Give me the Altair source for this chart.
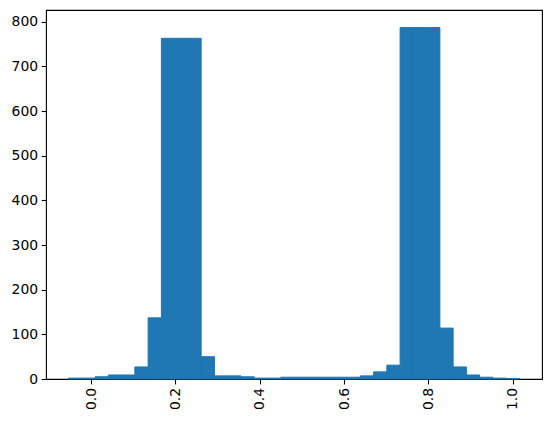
import altair as alt
import numpy as np
import pandas as pd

# histogram counts per bin
counts = [2, 2, 5, 9, 9, 27, 137, 763, 763, 763, 50, 7, 7, 5, 2, 2,
          4, 4, 4, 4, 4, 4, 7, 16, 31, 787, 787, 787, 114, 27, 9, 4, 2, 1]
first_edge = -0.0534
last_edge = 1.0159
x_ticks = [0.0, 0.2, 0.4, 0.6, 0.8, 1.0]
y_ticks = [0, 100, 200, 300, 400, 500, 600, 700, 800]

edges = np.linspace(first_edge, last_edge, len(counts) + 1)
df = pd.DataFrame({
    "x0": edges[:-1],
    "x1": edges[1:],
    "count": counts,
    "base": [0] * len(counts),
})

span = last_edge - first_edge
xdom = [first_edge - 0.05 * span, last_edge + 0.05 * span]
ydom = [0, max(counts) * 1.05]

font = "DejaVu Sans"

chart = alt.Chart(df).mark_rect(color="#1f77b4", stroke="#1f77b4",
                                strokeWidth=1.0, strokeOpacity=1).encode(
    x=alt.X("x0:Q", scale=alt.Scale(domain=xdom, nice=False, zero=False),
            axis=alt.Axis(values=x_ticks, format=".1f", labelAngle=270,
                          title=None, grid=False)),
    x2="x1:Q",
    y=alt.Y("count:Q", scale=alt.Scale(domain=ydom, nice=False),
            axis=alt.Axis(values=y_ticks, title=None, grid=False)),
    y2="base:Q",
).properties(
    width=496, height=369,
    autosize=alt.AutoSizeParams(type="none"),
    padding={"left": 38, "top": 2, "right": 2, "bottom": 34},
).configure_view(
    stroke="black", strokeWidth=1.1
).configure_axis(
    domain=False, tickColor="black", tickWidth=1.1, tickSize=4.9,
    labelPadding=3.5, labelFont=font, labelFontSize=13.9, labelColor="black",
).configure_axisX(
    labelAlign="right", labelBaseline="middle"
)

chart.save("out.html", embed_options={"renderer": "svg", "actions": False})
